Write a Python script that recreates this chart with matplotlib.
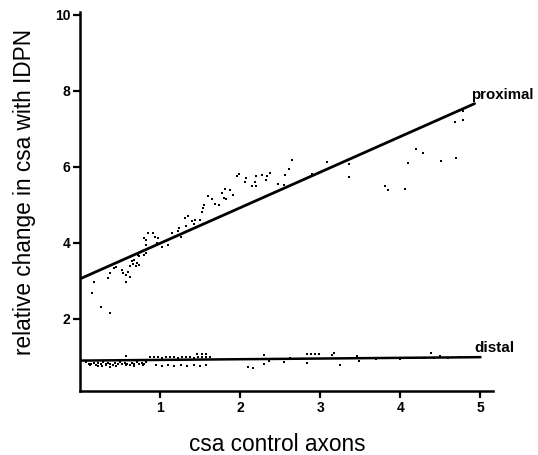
import numpy as np
import matplotlib
matplotlib.use("Agg")
import matplotlib.pyplot as plt

plt.rcParams['font.family'] = ['Liberation Sans', 'DejaVu Sans']

# proximal scatter
prox_x = [0.15, 0.18, 0.26, 0.37, 0.35, 0.38, 0.42, 0.45, 0.52, 0.54, 0.57, 0.58,
          0.62, 0.60, 0.63, 0.65, 0.66, 0.68, 0.70, 0.71, 0.74, 0.72, 0.74, 0.80,
          0.82, 0.80, 0.82, 0.85, 0.91, 0.94, 0.97, 0.96, 0.82, 1.03, 1.10, 1.15,
          1.23, 1.24, 1.26, 1.31, 1.35, 1.33, 1.40, 1.44, 1.42, 1.50, 1.54, 1.55,
          1.53, 1.60, 1.65, 1.69, 1.74, 1.77, 1.80, 1.81, 1.87, 1.83, 1.91, 1.96,
          1.99, 2.06, 2.08, 2.15, 2.19, 2.20, 2.20, 2.28, 2.33, 2.34, 2.38, 2.48,
          2.55, 2.56, 2.61, 2.65, 2.90, 3.08, 3.36, 3.36, 3.81, 3.85, 4.06, 4.10,
          4.20, 4.28, 4.51, 4.70, 4.68, 4.79, 4.79]
prox_y = [2.69, 2.97, 2.32, 2.15, 3.07, 3.20, 3.33, 3.36, 3.29, 3.20, 2.98, 3.16,
          3.11, 3.24, 3.40, 3.52, 3.45, 3.55, 3.38, 3.48, 3.42, 3.68, 3.64, 3.68,
          3.73, 4.12, 4.06, 4.25, 4.25, 4.15, 4.12, 3.99, 3.95, 3.90, 3.95, 4.25,
          4.30, 4.39, 4.15, 4.65, 4.71, 4.43, 4.56, 4.61, 4.50, 4.61, 4.91, 5.00,
          4.80, 5.24, 5.15, 5.03, 5.00, 5.31, 5.17, 5.41, 5.39, 5.15, 5.26, 5.76,
          5.82, 5.59, 5.70, 5.50, 5.61, 5.50, 5.76, 5.79, 5.64, 5.76, 5.83, 5.55,
          5.53, 5.79, 5.94, 6.17, 5.82, 6.12, 6.07, 5.73, 5.48, 5.39, 5.41, 6.11,
          6.47, 6.36, 6.16, 6.23, 7.17, 7.24, 7.46]

# distal scatter (dense band near 1)
dist_x = [0.08, 0.11, 0.14, 0.17, 0.20, 0.23, 0.26, 0.29, 0.32, 0.35, 0.38, 0.41,
          0.44, 0.47, 0.50, 0.53, 0.56, 0.59, 0.62, 0.65, 0.68, 0.71, 0.74, 0.77,
          0.80, 0.83, 0.12, 0.22, 0.33, 0.45, 0.57, 0.68, 0.79, 0.57, 0.37, 0.28,
          0.88, 0.93, 0.98, 1.03, 1.08, 1.13, 1.18, 1.23, 1.28, 1.33, 1.38, 1.43,
          1.48, 1.53, 1.58, 1.63, 0.95, 1.02, 1.10, 1.18, 1.26, 1.34, 1.42, 1.50,
          1.58, 1.46, 1.52, 1.58, 2.10, 2.16, 2.22, 2.30, 2.30, 2.36, 2.45, 2.55,
          2.62, 2.83, 2.88, 2.93, 2.98, 2.83, 3.15, 3.17, 3.25, 3.46, 3.48, 3.70,
          3.85, 4.00, 4.15, 4.30, 4.38, 4.42, 4.50, 4.60, 4.75]
dist_y = [0.86, 0.82, 0.80, 0.84, 0.79, 0.83, 0.81, 0.85, 0.80, 0.84, 0.82, 0.79,
          0.83, 0.81, 0.85, 0.80, 0.84, 0.82, 0.79, 0.83, 0.81, 0.85, 0.80, 0.84,
          0.82, 0.86, 0.78, 0.77, 0.78, 0.76, 0.78, 0.77, 0.79, 1.03, 0.74, 0.76,
          1.00, 0.99, 1.00, 0.98, 1.00, 0.99, 1.00, 0.98, 1.00, 0.99, 1.00, 0.98,
          1.00, 0.99, 1.00, 0.99, 0.78, 0.77, 0.78, 0.77, 0.78, 0.77, 0.78, 0.77,
          0.78, 1.08, 1.08, 1.08, 0.72, 0.71, 0.95, 1.05, 0.82, 0.90, 0.93, 0.86,
          0.97, 1.08, 1.08, 1.08, 1.08, 0.84, 1.05, 1.10, 0.79, 1.02, 0.88, 0.93,
          0.97, 0.94, 0.98, 0.96, 1.10, 0.98, 1.02, 0.96, 0.99]

# fitted lines
prox_fit_x = [0.0, 4.93]
prox_fit_y = [3.05, 7.66]
dist_fit_x = [0.0, 5.0]
dist_fit_y = [0.90, 0.99]

fig = plt.figure(figsize=(5.38, 4.55), dpi=100)
ax = fig.add_axes([80/538, (455-391)/455, (493-80)/538, (391-12)/455])

ax.scatter(prox_x, prox_y, s=3, c='black', marker='s', linewidths=0)
ax.scatter(dist_x, dist_y, s=4, c='black', marker='s', linewidths=0)
ax.plot(prox_fit_x, prox_fit_y, color='black', lw=2.0, solid_capstyle='round')
ax.plot(dist_fit_x, dist_fit_y, color='black', lw=1.8)

ax.text(4.89, 7.89, 'proximal', fontsize=10.8, fontweight='bold', ha='left', va='center')
ax.text(4.93, 1.23, 'distal', fontsize=11, fontweight='bold', ha='left', va='center')

ax.set_xlim(0, 5.16)
ax.set_ylim(0.1, 10.07)
ax.set_xticks([1, 2, 3, 4, 5])
ax.set_yticks([2, 4, 6, 8, 10])
ax.tick_params(direction='out', length=5, width=1.6, labelsize=10, pad=2)
for lab in ax.get_xticklabels() + ax.get_yticklabels():
    lab.set_fontweight('bold')

for side in ['top', 'right']:
    ax.spines[side].set_visible(False)
for side in ['left', 'bottom']:
    ax.spines[side].set_linewidth(1.8)

ax.set_xlabel('csa control axons', fontsize=16.3)
ax.set_ylabel('relative change in csa with IDPN', fontsize=16.3)
ax.xaxis.set_label_coords(0.477, -0.111)
ax.yaxis.set_label_coords(-0.107, 0.525)

fig.savefig('out.png', dpi=100)
